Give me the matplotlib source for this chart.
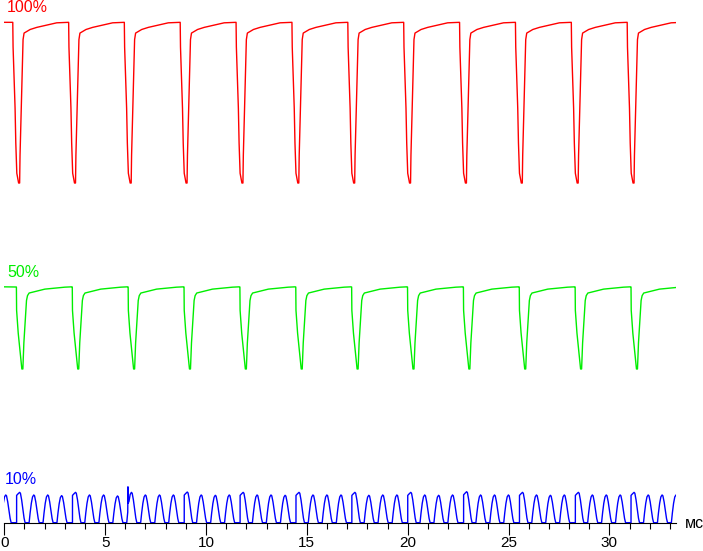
import numpy as np
import matplotlib
matplotlib.use("Agg")
import matplotlib.pyplot as plt

# time axis (ms)
x_max = 33.3
x_major = [0, 5, 10, 15, 20, 25, 30]
x_minor = list(range(0, 34))
x_unit = "мс"

# 100% trace: time of each falling edge (ms)
red_dips = [0.42, 3.19, 5.95, 8.72, 11.49, 14.26, 17.03, 19.80, 22.57, 25.34, 28.11, 30.88]
# one period after the falling edge: offset (ms) and level (%)
red_dt = [0.0, 0.015, 0.065, 0.114, 0.15, 0.2, 0.29, 0.34, 0.36, 0.41, 0.46, 0.51,
          0.56, 0.86, 1.19, 1.68, 2.18, 2.74]
red_lvl = [98.6, 83.4, 65, 46, 24.5, 6, 0, 0, 17, 40, 65, 88,
           92, 94.2, 95.5, 96.9, 98.3, 98.6]

# 50% trace
green_dips = [0.60, 3.37, 6.14, 8.91, 11.68, 14.45, 17.22, 19.99, 22.76, 25.53, 28.30, 31.07]
green_dt = [0.0, 0.01, 0.09, 0.14, 0.21, 0.27, 0.32, 0.34, 0.37, 0.42, 0.47, 0.5,
            0.55, 0.63, 0.82, 1.41, 1.9, 2.4, 2.74]
green_lvl = [50.3, 36, 22, 16, 7, 0, 0, 7, 16, 26, 36, 42,
             45, 46.6, 47.2, 49, 49.6, 50.2, 50.4]

# 10% trace: peak times (ms), peak levels, rising edge kind (s = soft, h = hard)
blue_peaks = [0.07, 0.76, 1.46, 2.15, 2.84, 3.53, 4.22, 4.92, 5.61, 6.30, 6.99,
              7.69, 8.38, 9.07, 9.76, 10.46, 11.15, 11.84, 12.53, 13.22, 13.92,
              14.61, 15.30, 15.99, 16.69, 17.38, 18.07, 18.76, 19.46, 20.15, 20.84,
              21.53, 22.22, 22.92, 23.61, 24.30, 24.99, 25.69, 26.38, 27.07, 27.76,
              28.46, 29.15, 29.84, 30.53, 31.22, 31.92, 32.61, 33.30]
blue_peak_lvl = [17.0, 18.6, 17.0, 17.0, 16.6, 18.6, 17.0, 17.0, 16.4, 18.6, 17.0,
                 17.0, 17.0, 18.8, 17.0, 16.8, 17.0, 18.6, 17.0, 17.0, 16.8,
                 18.6, 17.0, 17.0, 17.0, 18.6, 16.8, 17.0, 17.0, 18.6, 17.0,
                 16.8, 17.0, 19.0, 17.0, 17.0, 17.0, 18.6, 17.0, 16.8, 17.0,
                 18.6, 17.0, 17.0, 17.0, 18.6, 17.0, 17.0, 17.0]
blue_edge = "shssshssssssshssshssshssshssshssshssshssshssshsss"
blue_soft_dt = [-0.23, -0.18, -0.12, -0.06, 0.0, 0.04, 0.1, 0.16, 0.22, 0.27]
blue_soft_f = [0, 0.35, 0.7, 0.93, 1.0, 0.97, 0.75, 0.45, 0.15, 0]
blue_hard_dt = [-0.15, -0.149, -0.08, 0.0, 0.04, 0.1, 0.16, 0.22, 0.27]
blue_hard_f = [0, 0.9, 0.95, 1.0, 0.97, 0.75, 0.45, 0.15, 0]
blue_spike_t = [6.13, 6.14]
blue_spike_lvl = [22.0, 12.0]

# vertical placement of each trace's zero level (same units as %)
red_zero = 208.6
green_zero = 94.5
blue_zero = 0.2
y_top = 320.9


def periodic(events, dts, lvls):
    t = [0.0]
    y = [lvls[-1]]
    for e in events:
        t.extend(e + np.asarray(dts))
        y.extend(lvls)
    return np.array(t), np.array(y)


def blue_trace():
    t, y = [], []
    for p, lvl, kind in zip(blue_peaks, blue_peak_lvl, blue_edge):
        dts, fs = (blue_hard_dt, blue_hard_f) if kind == "h" else (blue_soft_dt, blue_soft_f)
        t.extend(p + np.asarray(dts))
        y.extend(lvl * np.asarray(fs))
    t.extend(blue_spike_t)
    y.extend(blue_spike_lvl)
    t, y = np.array(t), np.array(y)
    order = np.argsort(t, kind="stable")
    return t[order], y[order]


W, H = 703, 551
fig = plt.figure(figsize=(W / 100, H / 100), dpi=100)
ax = fig.add_axes([4.3 / W, (H - 523) / H, (676 - 4.3) / W, 523 / H])

rt, ry = periodic(red_dips, red_dt, red_lvl)
gt, gy = periodic(green_dips, green_dt, green_lvl)
bt, by = blue_trace()
ax.plot(rt, ry + red_zero, color="#ff0000", lw=1.0)
ax.plot(gt, gy + green_zero, color="#00ee00", lw=1.0)
ax.plot(bt, by + blue_zero, color="#0000ff", lw=1.0)

ax.set_xlim(0, x_max)
ax.set_ylim(0, y_top)
for s in ["top", "left", "right"]:
    ax.spines[s].set_visible(False)
ax.spines["bottom"].set_linewidth(0.8)
ax.set_yticks([])
ax.set_xticks(x_major)
ax.set_xticks(x_minor, minor=True)
ax.tick_params(axis="x", which="major", length=8.6, width=0.8, pad=1,
               labelsize=11)
ax.tick_params(axis="x", which="minor", length=4.3, width=0.8)
for lab in ax.get_xticklabels():
    lab.set_family("Liberation Sans")

font = dict(family="Liberation Sans", fontsize=11.5, va="baseline", ha="left")
fig.text(7 / W, 1 - 11.7 / H, "100%", color="#ff0000", **font)
fig.text(7.5 / W, 1 - 277 / H, "50%", color="#00ee00", **font)
fig.text(4.5 / W, 1 - 484 / H, "10%", color="#0000ff", **font)
fig.text(685 / W, 1 - 528 / H, x_unit, color="black", **font)

fig.savefig("out.png", dpi=100)
